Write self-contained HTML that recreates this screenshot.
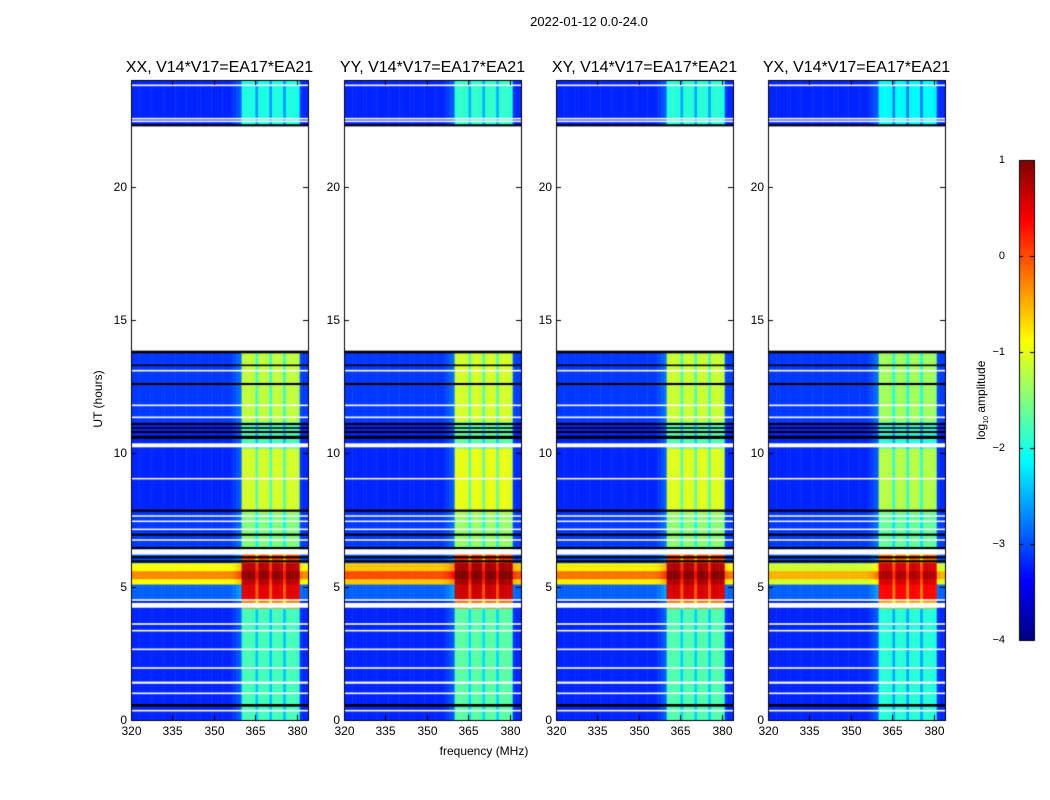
<!DOCTYPE html>
<html><head><meta charset="utf-8">
<style>
body{margin:0;background:#fff;width:1050px;height:800px;overflow:hidden;font-family:"Liberation Sans",sans-serif;}
#root{position:relative;width:1050px;height:800px;}
.t{position:absolute;white-space:nowrap;color:#000;}
canvas{position:absolute;left:0;top:0;}
</style></head><body>
<div id="root">
<canvas id="cv" width="1050" height="800"></canvas>
<div class="t" style="left:489px;top:14px;width:200px;text-align:center;font-size:13px;">2022-01-12 0.0-24.0</div>
<div class="t" style="left:384px;top:744px;width:200px;text-align:center;font-size:12px;">frequency (MHz)</div>
<div class="t" style="left:48px;top:392px;width:100px;text-align:center;font-size:12px;transform:rotate(-90deg);">UT (hours)</div>
<div class="t" style="left:922px;top:392px;width:120px;text-align:center;font-size:12px;transform:rotate(-90deg);">log<sub style="font-size:7px">10</sub> amplitude</div>
<div id="labels"></div>
</div>
<script>
// ---- data ----
const panelTitles=["XX, V14*V17=EA17*EA21","YY, V14*V17=EA17*EA21","XY, V14*V17=EA17*EA21","YX, V14*V17=EA17*EA21"];
const xTicks=[320,335,350,365,380];
const yTicks=[0,5,10,15,20];
const cbTicks=[1,0,-1,-2,-3,-4];
// time segments: [t0, t1, baseLevel, bandLevel]
const segStart=[0,4.2,4.5,5.1,5.3,5.6,5.9,6.3,7.8,10.2,11.2,22.3];
const segEnd  =[4.2,4.5,5.1,5.3,5.6,5.9,6.3,7.8,10.2,11.2,13.8,24];
const segBase =[-3.2,-3.2,-2.9,-0.9,-0.3,-0.9,-3.0,-3.1,-3.2,-3.2,-3.1,-3.2];
const segBand =[-1.9,-0.4,0.4,0.6,0.8,0.6,-0.1,-1.6,-1.2,-1.9,-1.3,-2.1];
// per-panel offsets
const panelBaseHot=[0,0.3,0.1,-0.2];
const panelBandOff=[0,0.1,0.05,-0.15];
// frequency channels (1 MHz each, 320-383)
const chanInBand=[0,0,0,0,0,0,0,0,0,0, 0,0,0,0,0,0,0,0,0,0, 0,0,0,0,0,0,0,0,0,0, 0,0,0,0,0,0,0,0,0,0, 1,1,1,1,1,1,1,1,1,1, 1,1,1,1,1,1,1,1,1,1, 1,0,0,0];
const chanOff=[0,0,0,0,0,0,0,0,0,0, 0,0,0,0,0,0,0,0,0,0, 0,0,0,0,0,0,0,0,0,0, 0,0,0,0,0,0,0.05,0.1,0.2,0.3, 0.1,0.1,0.15,0.1,0.1,-0.5,0.1,0.15,0.1,0.1, -0.5,0.1,0.15,0.1,0.1,-0.5,0.1,0.15,0.1,0.1, 0.05,0.1,0,0];
// flagged lines
const lineT=[23.8,22.55,22.45,22.3,13.8,13.3,13.1,12.6,11.8,11.35,11.1,10.95,10.8,10.6,10.3,9.05,7.85,7.65,7.45,7.15,6.95,6.75,6.45,6.3,6.1,5.95,4.5,4.3,3.6,3.35,2.65,1.95,1.4,1.0,0.55,0.35];
const lineW=[0.06,0.06,0.06,0.08,0.1,0.06,0.06,0.08,0.06,0.06,0.08,0.06,0.08,0.12,0.15,0.05,0.08,0.05,0.05,0.05,0.08,0.05,0.08,0.2,0.08,0.08,0.06,0.18,0.06,0.06,0.06,0.06,0.08,0.06,0.1,0.06];
const lineC=["w","w","w","k","k","k","w","k","w","w","k","k","k","k","w","w","k","w","w","w","k","w","k","w","k","k","w","w","w","w","w","w","w","w","k","w"];

// ---- geometry ----
const panelX=[131,344,556,768], PW=177, PY0=80, PY1=720;
function fx(p,f){return panelX[p]+(f-320)*PW/64;}
function fy(t){return PY1-(t/24)*(PY1-PY0);}
function jet(v){
  let x=(v+4)/5; x=Math.max(0,Math.min(1,x));
  const c=t=>Math.max(0,Math.min(1,1.5-Math.abs(4*x-t)));
  return `rgb(${Math.round(255*c(3))},${Math.round(255*c(2))},${Math.round(255*c(1))})`;
}
const cv=document.getElementById('cv'),ctx=cv.getContext('2d');
const lab=document.getElementById('labels');
function addText(txt,l,t,w,align,size,name){
  const d=document.createElement('div');d.className='t';
  
  
  d.style.cssText=`left:${l}px;top:${t}px;width:${w}px;text-align:${align};font-size:${size}px;`;
  d.textContent=txt;lab.appendChild(d);
}
for(let p=0;p<4;p++){
  for(let s=0;s<segStart.length;s++){
    const y0=fy(segEnd[s]),y1=fy(segStart[s]);
    for(let c=0;c<chanOff.length;c++){
      let v;
      if(chanInBand[c]) v=segBand[s]+panelBandOff[p]+chanOff[c];
      else { v=segBase[s]+chanOff[c]; if(segBase[s]>-2.5) v+=panelBaseHot[p]; }
      ctx.fillStyle=jet(v);
      const x0=fx(p,320+c),x1=fx(p,321+c);
      ctx.fillRect(x0,y0,x1-x0+0.5,y1-y0+0.5);
    }
  }
  for(let i=0;i<lineT.length;i++){
    ctx.fillStyle=lineC[i]==='w'?'#fff':'#000';
    const h=Math.max(1.5,lineW[i]*(PY1-PY0)/24);
    ctx.fillRect(panelX[p],fy(lineT[i])-h/2,PW,h);
  }
  ctx.strokeStyle='#000';ctx.lineWidth=1;
  ctx.strokeRect(panelX[p]+0.5,PY0+0.5,PW,PY1-PY0);
  xTicks.forEach(f=>{const x=Math.round(fx(p,f))+0.5;ctx.beginPath();ctx.moveTo(x,PY1);ctx.lineTo(x,PY1-5);ctx.moveTo(x,PY0);ctx.lineTo(x,PY0+5);ctx.stroke();
    addText(String(f),x-20,724,40,'center',12,'x-tick-label');});
  yTicks.forEach(t=>{const y=Math.round(fy(t))+0.5;ctx.beginPath();ctx.moveTo(panelX[p],y);ctx.lineTo(panelX[p]+5,y);ctx.moveTo(panelX[p]+PW,y);ctx.lineTo(panelX[p]+PW-5,y);ctx.stroke();
    addText(String(t),panelX[p]-36,y-8,32,'right',12,'y-tick-label');});
  addText(panelTitles[p],panelX[p]-50,59,PW+100,'center',16,'panel-title');
}
// colorbar
const CX=1019,CW=15,CY0=160,CY1=640;
for(let y=CY0;y<CY1;y++){ctx.fillStyle=jet(1-5*(y-CY0)/(CY1-CY0));ctx.fillRect(CX,y,CW,1);}
ctx.strokeStyle='#000';ctx.strokeRect(CX+0.5,CY0+0.5,CW,CY1-CY0);
cbTicks.forEach(v=>{const y=Math.round(CY0+(1-v)*(CY1-CY0)/5)+0.5;ctx.beginPath();ctx.moveTo(CX,y);ctx.lineTo(CX+4,y);ctx.moveTo(CX+CW,y);ctx.lineTo(CX+CW-4,y);ctx.stroke();
  addText(v<0?'\u2212'+(-v):String(v),CX-34,y-7,20,'right',11,'colorbar-tick-label');});
</script>
</body></html>
